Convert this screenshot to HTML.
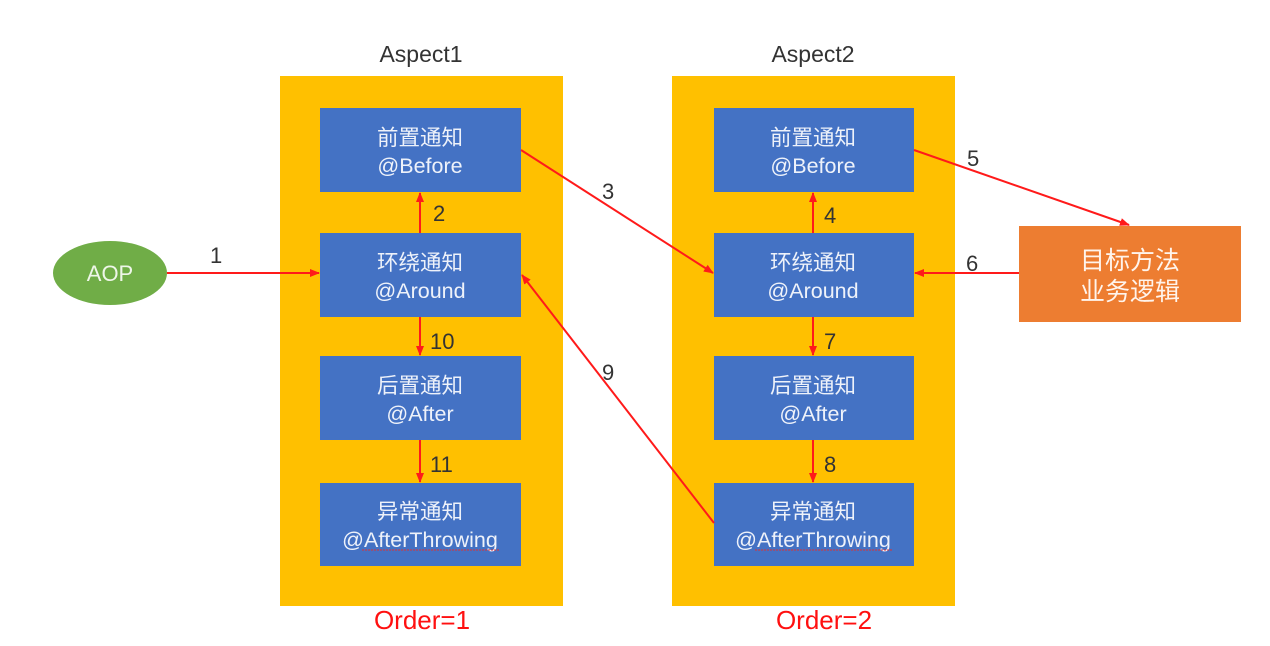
<!DOCTYPE html>
<html><head><meta charset="utf-8"><style>
html,body{margin:0;padding:0;background:#fff;}
svg{display:block;}
text{font-family:"Liberation Sans","Noto Sans CJK SC",sans-serif;}
.bt{fill:#eef2fa;font-size:21.5px;text-anchor:middle;}
.num{fill:#333;font-size:22px;}
.ar{stroke:#ff1a1a;stroke-width:2;fill:none;marker-end:url(#ah);}
</style></head><body>
<svg width="1270" height="646" viewBox="0 0 1270 646">
<defs><marker id="ah" markerWidth="10" markerHeight="10" refX="9" refY="5" orient="auto" markerUnits="userSpaceOnUse"><path d="M0,1 L10,5 L0,9 Z" fill="#ff1a1a"/></marker></defs>
<rect width="1270" height="646" fill="#fff"/>
<text x="421" y="62" font-size="23" fill="#333" text-anchor="middle">Aspect1</text>
<text x="813" y="62" font-size="23" fill="#333" text-anchor="middle">Aspect2</text>
<rect x="280" y="76" width="283" height="530" fill="#ffc000"/>
<rect x="672" y="76" width="283" height="530" fill="#ffc000"/>

<g><rect x="320" y="108" width="201" height="84" fill="#4472c4"/><text class="bt" x="420" y="145">前置通知</text><text class="bt" x="420" y="173">@Before</text></g>
<g><rect x="320" y="233" width="201" height="84" fill="#4472c4"/><text class="bt" x="420" y="270">环绕通知</text><text class="bt" x="420" y="298">@Around</text></g>
<g><rect x="320" y="356" width="201" height="84" fill="#4472c4"/><text class="bt" x="420" y="393">后置通知</text><text class="bt" x="420" y="421">@After</text></g>
<g><rect x="320" y="483" width="201" height="83" fill="#4472c4"/><text class="bt" x="420" y="519">异常通知</text><text class="bt" x="420" y="547">@AfterThrowing</text><path d="M362,550 L500,550" stroke="#e03030" stroke-width="1" stroke-dasharray="2,1"/></g>

<g><rect x="714" y="108" width="200" height="84" fill="#4472c4"/><text class="bt" x="813" y="145">前置通知</text><text class="bt" x="813" y="173">@Before</text></g>
<g><rect x="714" y="233" width="200" height="84" fill="#4472c4"/><text class="bt" x="813" y="270">环绕通知</text><text class="bt" x="813" y="298">@Around</text></g>
<g><rect x="714" y="356" width="200" height="84" fill="#4472c4"/><text class="bt" x="813" y="393">后置通知</text><text class="bt" x="813" y="421">@After</text></g>
<g><rect x="714" y="483" width="200" height="83" fill="#4472c4"/><text class="bt" x="813" y="519">异常通知</text><text class="bt" x="813" y="547">@AfterThrowing</text><path d="M755,550 L893,550" stroke="#e03030" stroke-width="1" stroke-dasharray="2,1"/></g>

<g><ellipse cx="110" cy="273" rx="57" ry="32" fill="#70ad47"/><text x="110" y="281" font-size="22" fill="#eef6e8" text-anchor="middle">AOP</text></g>
<g><rect x="1019" y="226" width="222" height="96" fill="#ed7d31"/><text x="1130" y="269" font-size="25" fill="#fff4ec" text-anchor="middle">目标方法</text><text x="1130" y="300" font-size="25" fill="#fff4ec" text-anchor="middle">业务逻辑</text></g>

<g>
<line class="ar" x1="167" y1="273" x2="319" y2="273"/>
<line class="ar" x1="420" y1="233" x2="420" y2="193"/>
<line class="ar" x1="521" y1="150" x2="713" y2="273"/>
<line class="ar" x1="813" y1="233" x2="813" y2="193"/>
<line class="ar" x1="914" y1="150" x2="1129" y2="225"/>
<line class="ar" x1="1019" y1="273" x2="915" y2="273"/>
<line class="ar" x1="813" y1="317" x2="813" y2="355"/>
<line class="ar" x1="813" y1="440" x2="813" y2="482"/>
<line class="ar" x1="714" y1="523" x2="522" y2="275"/>
<line class="ar" x1="420" y1="317" x2="420" y2="355"/>
<line class="ar" x1="420" y1="440" x2="420" y2="482"/>
</g>
<g>
<text class="num" x="210" y="263">1</text>
<text class="num" x="433" y="221">2</text>
<text class="num" x="602" y="199">3</text>
<text class="num" x="824" y="223">4</text>
<text class="num" x="967" y="166">5</text>
<text class="num" x="966" y="271">6</text>
<text class="num" x="824" y="349">7</text>
<text class="num" x="824" y="472">8</text>
<text class="num" x="602" y="380">9</text>
<text class="num" x="430" y="349">10</text>
<text class="num" x="430" y="472">11</text>
</g>
<text x="422" y="629" font-size="26" fill="#ff1010" text-anchor="middle">Order=1</text>
<text x="824" y="629" font-size="26" fill="#ff1010" text-anchor="middle">Order=2</text>
</svg>
</body></html>
